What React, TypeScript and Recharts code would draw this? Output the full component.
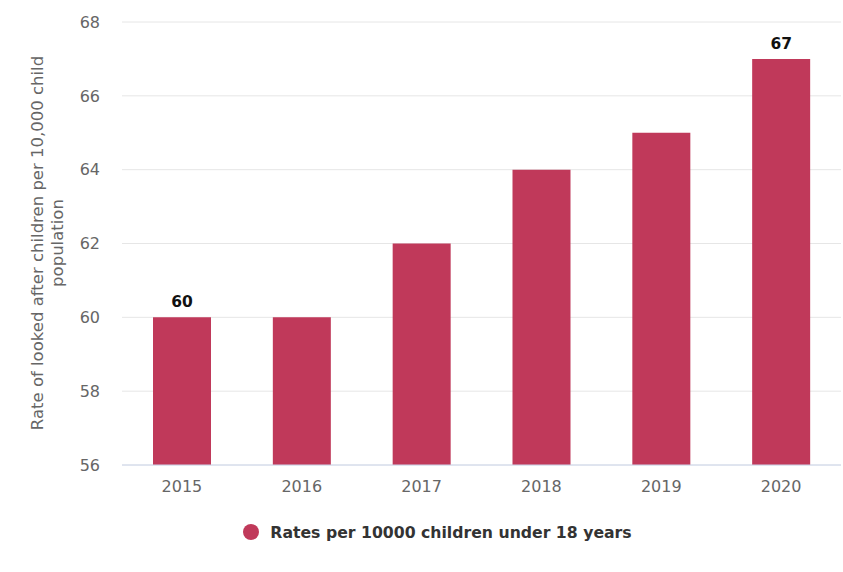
import { Bar, BarChart, CartesianGrid, LabelList, Legend, XAxis, YAxis } from "recharts";

const years = ["2015", "2016", "2017", "2018", "2019", "2020"];
const rates = [60, 60, 62, 64, 65, 67];
const labelledYears = ["2015", "2020"];
const yTicks = [56, 58, 60, 62, 64, 66, 68];

const seriesName = "Rates per 10000 children under 18 years";
const barColor = "#C0395A";
const font = "'DejaVu Sans', Verdana, sans-serif";

const data = years.map((year, i) => ({ year, rate: rates[i] }));

function AxisTitle() {
  return (
    <text
      transform="translate(43, 243) rotate(-90)"
      textAnchor="middle"
      fill="#666"
      fontSize={16.5}
      fontFamily={font}
    >
      <tspan x={0} dy={0}>Rate of looked after children per 10,000 child</tspan>
      <tspan x={0} dy={20}>population</tspan>
    </text>
  );
}

function ValueLabel(props: any) {
  const { x, y, width, value, index } = props;
  if (!labelledYears.includes(years[index])) return null;
  return (
    <text
      x={x + width / 2}
      y={y - 10}
      textAnchor="middle"
      fontSize={15.5}
      fontWeight="bold"
      fontFamily={font}
      fill="#111"
    >
      {value}
    </text>
  );
}

function LegendBox() {
  return (
    <div
      style={{
        display: "flex",
        justifyContent: "center",
        alignItems: "center",
        fontFamily: font,
        fontSize: 15.7,
        fontWeight: "bold",
        color: "#333",
        height: 20,
      }}
    >
      <svg width={18} height={18} style={{ marginRight: 10 }}>
        <circle cx={9} cy={9} r={8} fill={barColor} />
      </svg>
      <span>{seriesName}</span>
    </div>
  );
}

export default function App() {
  return (
    <div style={{ position: "absolute", left: 0, top: 0, background: "#fff" }}>
      <BarChart
        width={843}
        height={572}
        data={data}
        margin={{ top: 22, right: 2, left: 0, bottom: 57 }}
      >
        <CartesianGrid vertical={false} stroke="#e6e6e6" />
        <XAxis
          dataKey="year"
          height={30}
          axisLine={{ stroke: "#ccd6eb" }}
          tickLine={false}
          tickSize={0}
          tickMargin={16}
          tick={{ fill: "#666", fontSize: 16, fontFamily: font }}
        />
        <YAxis
          width={122}
          domain={[56, 68]}
          ticks={yTicks}
          axisLine={false}
          tickLine={false}
          tickSize={0}
          tickMargin={22}
          tick={{ fill: "#666", fontSize: 16, fontFamily: font }}
          label={<AxisTitle />}
        />
        <Legend
          verticalAlign="bottom"
          height={20}
          wrapperStyle={{ top: 522, left: 31, width: 812 }}
          content={<LegendBox />}
        />
        <Bar dataKey="rate" name={seriesName} fill={barColor} barSize={58} isAnimationActive={false}>
          <LabelList dataKey="rate" content={<ValueLabel />} />
        </Bar>
      </BarChart>
    </div>
  );
}
